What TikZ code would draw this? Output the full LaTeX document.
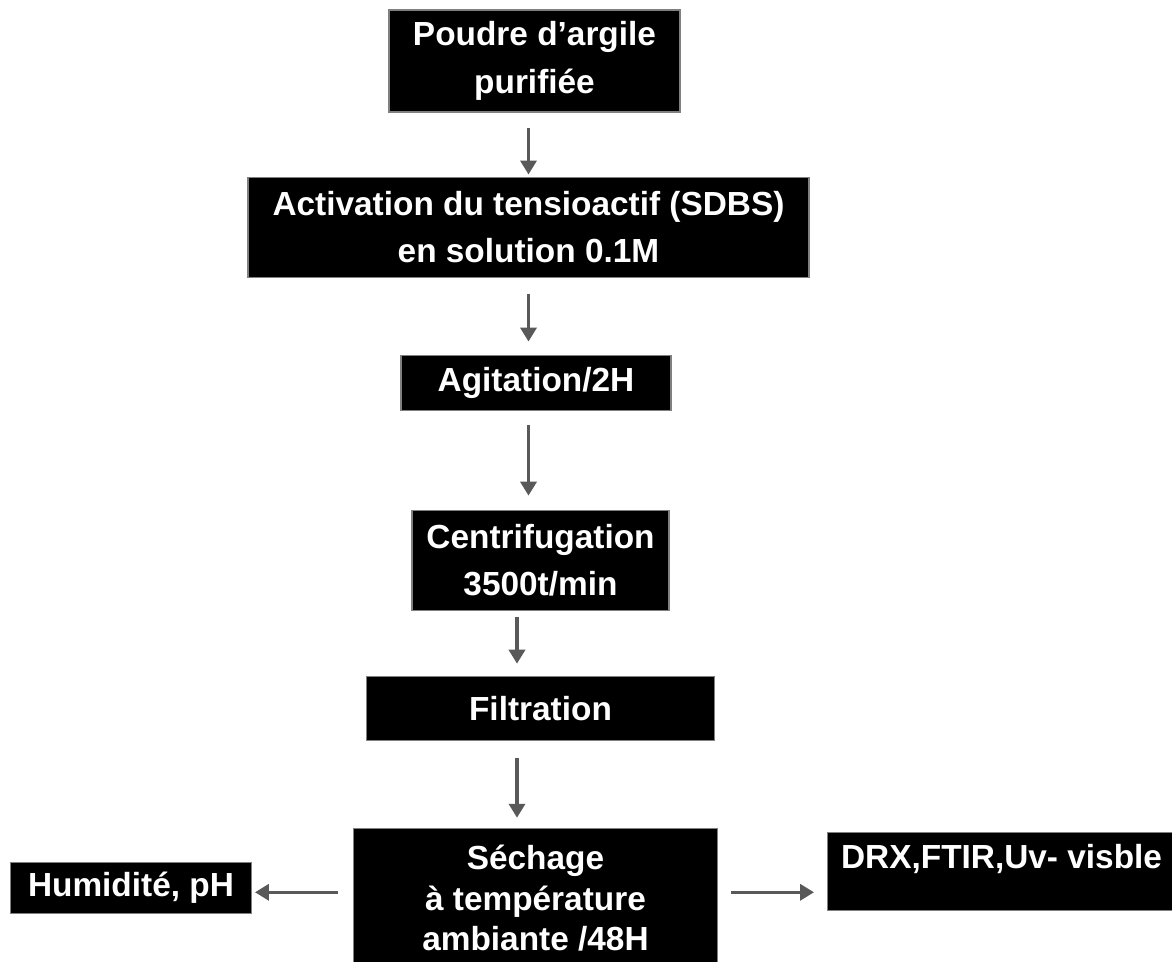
\documentclass[tikz,border=0pt]{standalone}
\usepackage{fontspec}
\setmainfont{Liberation Sans}
\usepackage{xcolor}
\usepackage{tikz}
\usetikzlibrary{arrows.meta, positioning}

\definecolor{flecheGris}{HTML}{595959}

\begin{document}
\begin{tikzpicture}[
    node distance=1.3cm,
    box/.style={
        rectangle,
        fill=black,
        draw=gray,
        line width=0.6pt,
        text=white,
        align=center,
        inner sep=0pt,
        font=\fontsize{19}{27}\selectfont\bfseries
    },
    arrow/.style={
        -{Triangle[length=0.28cm,width=0.32cm]},
        line width=0.07cm,
        draw=flecheGris
    }
]

\useasboundingbox (0,0) rectangle (23.44,-19.22);
\clip (0,0) rectangle (23.44,-19.22);

\node[box, minimum width=5.82cm, minimum height=2.04cm] (poudre) at (10.69,-1.22)
{Poudre d’argile\\
purifiée};

\node[box, minimum width=11.22cm, minimum height=2.0cm,
      below=1.28cm of poudre, xshift=-0.12cm] (activation)
{Activation du tensioactif (SDBS)\\
en solution 0.1M};

\node[box, minimum width=5.4cm, minimum height=1.1cm,
      below=1.54cm of activation, xshift=0.15cm] (agitation)
{Agitation/2H};

\node[box, minimum width=5.14cm, minimum height=2.0cm,
      below=1.98cm of agitation, xshift=0.09cm] (centri)
{Centrifugation\\
3500t/min};

\node[box, minimum width=6.96cm, minimum height=1.28cm,
      below=1.3cm of centri] (filtration)
{Filtration};

\node[box, minimum width=7.28cm, minimum height=2.8cm,
      below=1.74cm of filtration, xshift=-0.1cm,
      font=\fontsize{19}{23}\selectfont\bfseries] (sechage)
{Séchage\\
à température\\
ambiante /48H};

\node[box, minimum width=4.82cm, minimum height=1.02cm,
      left=2.02cm of sechage, yshift=0.21cm] (humid)
{Humidité, pH};

\node[box, minimum width=6.96cm, minimum height=1.56cm, text depth=0.6cm,
      right=2.18cm of sechage, yshift=0.54cm] (drx)
{DRX,FTIR,Uv- visble};

% vertical flow
\draw[arrow, shorten <=0.3cm, shorten >=0.04cm] (poudre.south -| activation) -- (activation.north);
\draw[arrow, shorten <=0.32cm, shorten >=0.26cm] (activation.south) -- (agitation.north -| activation);
\draw[arrow, shorten <=0.28cm, shorten >=0.28cm] (agitation.south -| activation) -- (centri.north -| activation);

\coordinate (axe) at ([xshift=-0.47cm]centri.south);
\draw[arrow, shorten <=0.12cm, shorten >=0.24cm] (axe) -- (axe |- filtration.north);
\draw[arrow, shorten <=0.34cm, shorten >=0.2cm] (axe |- filtration.south) -- (axe |- sechage.north);

% side branches
\draw[arrow, shorten <=0.3cm, shorten >=0.06cm] ([yshift=0.12cm]sechage.west) -- ([yshift=0.12cm]sechage.west -| humid.east);
\draw[arrow, shorten <=0.26cm, shorten >=0.26cm] ([yshift=0.12cm]sechage.east) -- ([yshift=0.12cm]sechage.east -| drx.west);

\end{tikzpicture}
\end{document}
